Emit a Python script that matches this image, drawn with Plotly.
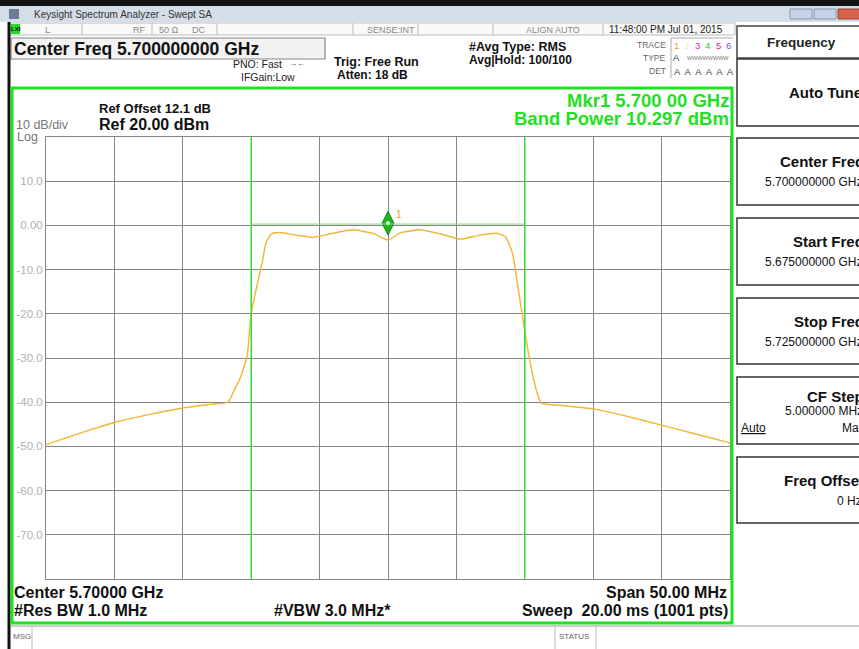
import plotly.graph_objects as go

freq_ghz = [5.6750, 5.6775, 5.6800, 5.6825, 5.6850, 5.6870, 5.6883, 5.6888, 5.6892,
            5.6897, 5.6900, 5.6904, 5.6908, 5.6911, 5.6915, 5.6921, 5.6933, 5.6945,
            5.6958, 5.6974, 5.6989, 5.7000, 5.7009, 5.7023, 5.7038, 5.7053, 5.7067,
            5.7080, 5.7086, 5.7091, 5.7095, 5.7099, 5.7104, 5.7109, 5.7112, 5.7125,
            5.7150, 5.7175, 5.7200, 5.7225, 5.7250]
power_dbm = [-49.6, -47.0, -44.6, -42.8, -41.3, -40.5, -40.0, -37.0, -34.5,
             -29.5, -20.0, -13.9, -8.5, -3.7, -1.9, -1.6, -2.2, -2.7,
             -1.9, -1.0, -1.8, -3.3, -1.7, -1.0, -1.9, -3.1, -2.2,
             -1.8, -2.6, -6.3, -13.9, -22.1, -31.1, -37.9, -40.2, -40.7,
             -41.5, -43.2, -45.2, -47.2, -49.2]
marker_freq = [5.700]
marker_level = [0.5]
band_edges_ghz = [5.690, 5.710]
band_line_level = 0.3
y_tick_vals = [10, 0, -10, -20, -30, -40, -50, -60, -70]
y_tick_text = ["10.0", "0.00", "-10.0", "-20.0", "-30.0", "-40.0", "-50.0", "-60.0", "-70.0"]
x_range = [5.675, 5.725]
y_range = [-80, 20]

# ---------------- layout helpers (pixel -> paper) ----------------
W, H = 859, 649
L, R, T, B = 46, 730, 137, 579
def xp(px): return (px - L) / (R - L)
def yp(py): return (B - py) / (B - T)

FONT = "Liberation Sans, Arial, sans-serif"
annotations = []
shapes = []

def txt(px, py, text, size=11, color="#000", bold=False, anchor="left"):
    if bold:
        text = "<b>" + text + "</b>"
    annotations.append(dict(x=xp(px), y=yp(py), xref="paper", yref="paper", text=text,
                            showarrow=False, xanchor=anchor, yanchor="middle",
                            font=dict(family=FONT, size=size, color=color)))

def rect(x0, y0, x1, y1, line="#888", width=1, fill="rgba(0,0,0,0)", layer="above"):
    shapes.append(dict(type="rect", xref="paper", yref="paper", x0=xp(x0), x1=xp(x1),
                       y0=yp(y1), y1=yp(y0), line=dict(color=line, width=width),
                       fillcolor=fill, layer=layer))

def hline(x0, x1, y, color="#888", width=1):
    shapes.append(dict(type="line", xref="paper", yref="paper", x0=xp(x0), x1=xp(x1),
                       y0=yp(y), y1=yp(y), line=dict(color=color, width=width)))

def vline(x, y0, y1, color="#888", width=1):
    shapes.append(dict(type="line", xref="paper", yref="paper", x0=xp(x), x1=xp(x),
                       y0=yp(y0), y1=yp(y1), line=dict(color=color, width=width)))

# ---------------- window chrome ----------------
rect(0, 0, 859, 6, line="rgba(0,0,0,0)", width=0, fill="#111", layer="below")
rect(0, 6, 859, 22, line="rgba(0,0,0,0)", width=0, fill="#d5dde8", layer="below")
rect(9, 9, 19, 19, line="rgba(0,0,0,0)", width=0, fill="#6b7d99")
txt(32, 14.5, "Keysight Spectrum Analyzer - Swept SA", 10, "#333")
rect(790, 9, 812, 19, line="#8a9ab0", fill="#c6d3e6")
rect(814, 9, 836, 19, line="#8a9ab0", fill="#c6d3e6")
rect(838, 9, 860, 19, line="#a04030", fill="#d9614c")

# status row
rect(10, 23, 735, 35, line="#bbb", width=1, fill="#fafafa", layer="below")
rect(11, 24, 20, 34, line="rgba(0,0,0,0)", width=0, fill="#22dd22")
txt(15.5, 29, "LXI", 6, "#000", True, "center")
for sx in [82, 152, 217, 353, 418, 493, 603]:
    vline(sx, 23, 35, "#bbb")
txt(47, 30, "L", 9.5, "#888", False, "center")
txt(139, 30, "RF", 9, "#888", False, "center")
txt(157, 30, "50 Ω", 9, "#888")
txt(190, 30, "DC", 9, "#888")
txt(391, 30, "SENSE:INT", 9, "#888", False, "center")
txt(553, 30, "ALIGN AUTO", 9, "#888", False, "center")
txt(607, 30, "11:48:00 PM Jul 01, 2015", 10, "#222")

# left black edge
vline(9, 22, 649, "#111", 3)

# header
rect(11, 38, 325, 59, line="#888", width=1.2, fill="#f2f2f2", layer="below")
txt(12, 49, "Center Freq 5.700000000 GHz", 17.5, "#111", True)
txt(284, 64, "PNO: Fast", 10.5, "#222", False, "right")
txt(287, 64, "→←", 8, "#222")
txt(297, 77, "IFGain:Low", 10.5, "#222", False, "right")
txt(332, 62, "Trig: Free Run", 12.5, "#111", True)
txt(335, 75, "Atten: 18 dB", 12, "#111", True)
txt(467, 47, "#Avg Type: RMS", 12.5, "#111", True)
txt(467, 60, "Avg|Hold: 100/100", 12, "#111", True)

txt(668, 45, "TRACE", 8.5, "#666", False, "right")
txt(668, 58, "TYPE", 8.5, "#666", False, "right")
txt(668, 71, "DET", 8.5, "#666", False, "right")
vline(671, 38, 78, "#aaa")
hline(671, 733, 38, "#aaa")
for i, (c, col) in enumerate(zip("123456", ["#e0a020", "#ddeedd", "#e020e0", "#22cc22",
                                             "#e020a0", "#7050ff"])):
    txt(676 + i * 10.5, 45, c, 9.5, col, False, "center")
txt(676, 58, "A", 9.5, "#444", False, "center")
txt(685, 58, "WWWWWWWW", 5.5, "#777")
txt(672, 71, "A  A  A  A  A  A", 9.5, "#444")

# green panel frame
rect(12, 88, 732, 623, line="#1ee31e", width=3)

txt(97, 108.5, "Ref Offset 12.1 dB", 13, "#111", True)
txt(97, 124.5, "Ref 20.00 dBm", 16, "#111", True)
txt(14, 124.5, "10 dB/div", 12.5, "#777")
txt(15, 137, "Log", 12.5, "#777")
txt(731, 100.5, "Mkr1 5.700 00 GHz", 18.5, "#22e022", True, "right")
txt(731, 118.5, "Band Power 10.297 dBm", 18.5, "#22e022", True, "right")

txt(12, 592, "Center 5.70000 GHz", 16, "#111", True)
txt(12, 610, "#Res BW 1.0 MHz", 16, "#111", True)
txt(272, 610, "#VBW 3.0 MHz*", 16, "#111", True)
txt(729, 592, "Span 50.00 MHz", 16, "#111", True, "right")
txt(730, 610, "Sweep  20.00 ms (1001 pts)", 16, "#111", True, "right")

# message row
hline(10, 859, 626, "#999")
vline(32, 626, 649, "#bbb")
vline(555, 626, 649, "#bbb")
vline(596, 626, 649, "#bbb")
txt(11, 636, "MSG", 8, "#666")
txt(557, 636, "STATUS", 8, "#666")

# softkey panel
rect(737, 26, 880, 58, line="#444", width=1.5)
txt(801, 42, "Frequency", 13.5, "#222", True, "center")
keys = [(59, 126, "Auto Tune", None), (138, 205, "Center Freq", "5.700000000 GHz"),
        (218, 285, "Start Freq", "5.675000000 GHz"), (298, 364, "Stop Freq", "5.725000000 GHz"),
        (377, 444, "CF Step", "5.000000 MHz"), (457, 523, "Freq Offset", "0 Hz")]
for (y0, y1, k, v) in keys:
    rect(737, y0, 880, y1, line="#333", width=1.5)
    if v is None:
        txt(864, (y0 + y1) / 2, k, 15, "#111", True, "right")
    elif k == "CF Step":
        txt(866, y0 + 19, k, 15, "#111", True, "right")
        txt(865, y0 + 34, v, 12, "#111", False, "right")
        txt(739, y0 + 51, "<u>Auto</u>", 12, "#111")
        txt(867, y0 + 51, "Man", 12, "#111", False, "right")
    else:
        txt(866, y0 + 23, k, 15, "#111", True, "right")
        txt(864, y0 + 44, v, 12, "#111", False, "right")

# band edge lines and band level line
for f in band_edges_ghz:
    shapes.append(dict(type="line", xref="x", yref="paper", x0=f, x1=f, y0=0, y1=1,
                       line=dict(color="#2ee02e", width=1.5), layer="above"))
shapes.append(dict(type="line", xref="x", yref="y", x0=band_edges_ghz[0], x1=band_edges_ghz[1],
                   y0=band_line_level, y1=band_line_level,
                   line=dict(color="#8fd08f", width=1), layer="above"))

# ---------------- traces ----------------
fig = go.Figure()
fig.add_trace(go.Scatter(x=freq_ghz, y=power_dbm, mode="lines",
                         line=dict(color="#f2b535", width=1.4, shape="spline", smoothing=0.5),
                         hoverinfo="skip", showlegend=False))
fig.add_trace(go.Scatter(x=marker_freq, y=marker_level, mode="markers",
                         marker=dict(symbol="diamond-tall", size=17, color="#1fb51f",
                                     line=dict(color="#138a13", width=1)),
                         showlegend=False))
fig.add_trace(go.Scatter(x=marker_freq, y=marker_level, mode="markers",
                         marker=dict(symbol="circle", size=4, color="#e8ffe8"),
                         showlegend=False))
annotations.append(dict(x=marker_freq[0], y=marker_level[0], xref="x", yref="y", text="1",
                        showarrow=False, xshift=11, yshift=9,
                        font=dict(family=FONT, size=10, color="#e0a020")))

fig.update_layout(
    width=W, height=H,
    margin=dict(l=L, r=W - R, t=T, b=H - B, pad=0),
    paper_bgcolor="white", plot_bgcolor="white",
    shapes=shapes, annotations=annotations, showlegend=False,
    xaxis=dict(range=x_range, dtick=0.005, tick0=5.675, showticklabels=False,
               showgrid=True, gridcolor="#858585", gridwidth=1, zeroline=False,
               showline=True, linecolor="#858585", mirror=True, ticks="", fixedrange=True),
    yaxis=dict(range=y_range, tickvals=y_tick_vals, ticktext=y_tick_text,
               showgrid=True, gridcolor="#858585", gridwidth=1, zeroline=False,
               showline=True, linecolor="#858585", mirror=True, ticks="",
               tickfont=dict(family=FONT, size=11.5, color="#b0b0b0"), fixedrange=True),
)
fig.write_html("out.html", config={"displayModeBar": False},
               post_script="document.body.style.margin='0';document.body.style.overflow='hidden';")
